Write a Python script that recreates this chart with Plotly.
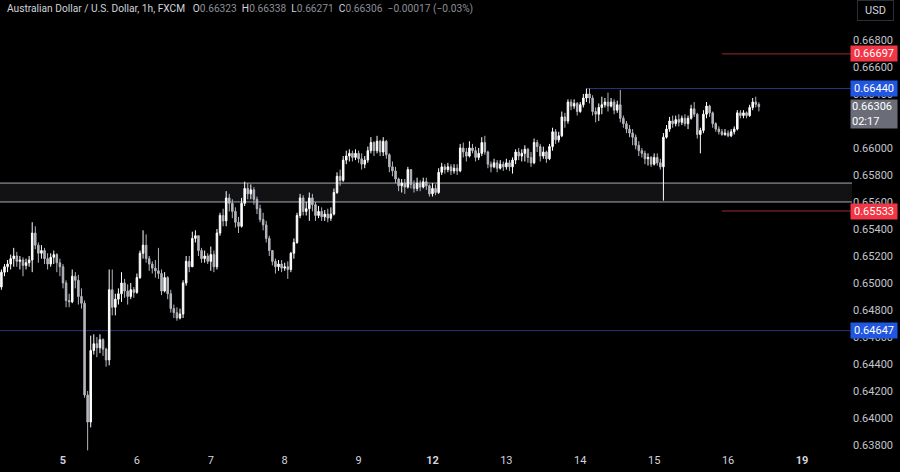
import plotly.graph_objects as go

# ---------------- data (AUD/USD, 1h, FXCM) ----------------
closes = [
 0.6508,0.6512,0.6514,0.6518,0.6520,0.6516,0.6517,0.6513,0.6515,0.6517,
 0.6537,0.6528,0.6522,0.6524,0.6518,0.6514,0.6519,0.6521,0.6515,0.6512,
 0.6500,0.6487,0.6486,0.6505,0.6502,0.6490,0.6485,0.6417,0.6397,0.6450,
 0.6455,0.6452,0.6458,0.6451,0.6443,0.6495,0.6482,0.6488,0.6492,0.6500,
 0.6494,0.6490,0.6495,0.6493,0.6504,0.6522,0.6528,0.6518,0.6514,0.6511,
 0.6509,0.6507,0.6494,0.6504,0.6492,0.6481,0.6478,0.6474,0.6477,0.6500,
 0.6516,0.6512,0.6533,0.6535,0.6524,0.6518,0.6520,0.6516,0.6521,0.6512,
 0.6537,0.6550,0.6546,0.6563,0.6559,0.6553,0.6545,0.6542,0.6559,0.6570,
 0.6566,0.6569,0.6562,0.6555,0.6547,0.6543,0.6533,0.6524,0.6516,0.6512,
 0.6514,0.6511,0.6512,0.6510,0.6522,0.6530,0.6550,0.6563,0.6553,0.6555,
 0.6563,0.6558,0.6550,0.6553,0.6549,0.6551,0.6548,0.6551,0.6567,0.6579,
 0.6576,0.6591,0.6594,0.6596,0.6593,0.6596,0.6592,0.6588,0.6591,0.6598,
 0.6604,0.6598,0.6605,0.6597,0.6605,0.6595,0.6586,0.6583,0.6577,0.6572,
 0.6574,0.6571,0.6584,0.6573,0.6570,0.6574,0.6571,0.6575,0.6572,0.6566,
 0.6570,0.6567,0.6582,0.6586,0.6584,0.6586,0.6583,0.6585,0.6583,0.6600,
 0.6597,0.6594,0.6600,0.6598,0.6593,0.6596,0.6604,0.6597,0.6588,0.6586,
 0.6589,0.6585,0.6588,0.6586,0.6589,0.6586,0.6591,0.6597,0.6594,0.6596,
 0.6599,0.6593,0.6589,0.6604,0.6601,0.6594,0.6597,0.6592,0.6601,0.6612,
 0.6606,0.6609,0.6623,0.6620,0.6634,0.6631,0.6633,0.6627,0.6632,0.6637,
 0.6640,0.6637,0.6627,0.6625,0.6630,0.6632,0.6634,0.6631,0.6634,0.6628,
 0.6632,0.6622,0.6618,0.6614,0.6611,0.6608,0.6602,0.6598,0.6596,0.6592,
 0.6593,0.6588,0.6593,0.6589,0.6586,0.6608,0.6614,0.6620,0.6618,0.6621,
 0.6619,0.6622,0.6618,0.6622,0.6629,0.6625,0.6610,0.6613,0.6625,0.6631,
 0.6626,0.6618,0.6614,0.6612,0.6610,0.6611,0.6609,0.6612,0.6614,0.6626,
 0.6624,0.6626,0.6624,0.6630,0.6634,0.66323,0.66306,
]

opens = [
 0.6497,0.6508,0.6512,0.6514,0.6518,0.6520,0.6516,0.6517,0.6513,0.6515,
 0.6517,0.6537,0.6528,0.6522,0.6524,0.6518,0.6514,0.6519,0.6521,0.6515,
 0.6512,0.6500,0.6487,0.6486,0.6505,0.6502,0.6490,0.6485,0.6417,0.6397,
 0.6450,0.6455,0.6452,0.6458,0.6451,0.6443,0.6495,0.6482,0.6488,0.6492,
 0.6500,0.6494,0.6490,0.6495,0.6493,0.6504,0.6522,0.6528,0.6518,0.6514,
 0.6511,0.6509,0.6507,0.6494,0.6504,0.6492,0.6481,0.6478,0.6474,0.6477,
 0.6500,0.6516,0.6512,0.6533,0.6535,0.6524,0.6518,0.6520,0.6516,0.6521,
 0.6512,0.6537,0.6550,0.6546,0.6563,0.6559,0.6553,0.6545,0.6542,0.6559,
 0.6570,0.6566,0.6569,0.6562,0.6555,0.6547,0.6543,0.6533,0.6524,0.6516,
 0.6512,0.6514,0.6511,0.6512,0.6510,0.6522,0.6530,0.6550,0.6563,0.6553,
 0.6555,0.6563,0.6558,0.6550,0.6553,0.6549,0.6551,0.6548,0.6551,0.6567,
 0.6579,0.6576,0.6591,0.6594,0.6596,0.6593,0.6596,0.6592,0.6588,0.6591,
 0.6598,0.6604,0.6598,0.6605,0.6597,0.6605,0.6595,0.6586,0.6583,0.6577,
 0.6572,0.6574,0.6571,0.6584,0.6573,0.6570,0.6574,0.6571,0.6575,0.6572,
 0.6566,0.6570,0.6567,0.6582,0.6586,0.6584,0.6586,0.6583,0.6585,0.6583,
 0.6600,0.6597,0.6594,0.6600,0.6598,0.6593,0.6596,0.6604,0.6597,0.6588,
 0.6586,0.6589,0.6585,0.6588,0.6586,0.6589,0.6586,0.6591,0.6597,0.6594,
 0.6596,0.6599,0.6593,0.6589,0.6604,0.6601,0.6594,0.6597,0.6592,0.6601,
 0.6612,0.6606,0.6609,0.6623,0.6620,0.6634,0.6631,0.6633,0.6627,0.6632,
 0.6637,0.6640,0.6637,0.6627,0.6625,0.6630,0.6632,0.6634,0.6631,0.6634,
 0.6628,0.6632,0.6622,0.6618,0.6614,0.6611,0.6608,0.6602,0.6598,0.6596,
 0.6592,0.6593,0.6588,0.6593,0.6589,0.6586,0.6608,0.6614,0.6620,0.6618,
 0.6621,0.6619,0.6622,0.6618,0.6622,0.6629,0.6625,0.6610,0.6613,0.6625,
 0.6631,0.6626,0.6618,0.6614,0.6612,0.6610,0.6611,0.6609,0.6612,0.6614,
 0.6626,0.6624,0.6626,0.6624,0.6630,0.6634,0.66323,
]

highs = [
 0.6510,0.6514,0.6517,0.6521,0.6526,0.6523,0.6520,0.6519,0.6518,0.6520,
 0.6545,0.6542,0.6530,0.6528,0.6526,0.6522,0.6522,0.6524,0.6522,0.6518,
 0.6514,0.6502,0.6492,0.6510,0.6508,0.6506,0.6496,0.6487,0.6420,0.6461,
 0.6462,0.6460,0.6462,0.6459,0.6452,0.6510,0.6510,0.6492,0.6496,0.6508,
 0.6503,0.6499,0.6500,0.6497,0.6507,0.6524,0.6539,0.6536,0.6520,0.6516,
 0.6517,0.6526,0.6510,0.6508,0.6505,0.6495,0.6484,0.6482,0.6481,0.6502,
 0.6520,0.6520,0.6538,0.6539,0.6535,0.6526,0.6524,0.6522,0.6527,0.6524,
 0.6540,0.6552,0.6555,0.6568,0.6566,0.6562,0.6556,0.6549,0.6563,0.6575,
 0.6574,0.6573,0.6571,0.6564,0.6558,0.6552,0.6546,0.6535,0.6524,0.6518,
 0.6517,0.6517,0.6515,0.6516,0.6523,0.6533,0.6552,0.6566,0.6565,0.6560,
 0.6567,0.6566,0.6560,0.6557,0.6556,0.6554,0.6555,0.6556,0.6570,0.6582,
 0.6584,0.6594,0.6598,0.6599,0.6598,0.6599,0.6598,0.6596,0.6594,0.6601,
 0.6608,0.6605,0.6609,0.6606,0.6608,0.6606,0.6596,0.6590,0.6586,0.6578,
 0.6577,0.6577,0.6586,0.6584,0.6576,0.6578,0.6576,0.6578,0.6578,0.6573,
 0.6574,0.6573,0.6585,0.6589,0.6588,0.6589,0.6588,0.6588,0.6588,0.6603,
 0.6604,0.6600,0.6605,0.6603,0.6601,0.6600,0.6608,0.6609,0.6598,0.6590,
 0.6592,0.6591,0.6591,0.6590,0.6592,0.6591,0.6593,0.6599,0.6600,0.6599,
 0.6602,0.6600,0.6597,0.6607,0.6606,0.6603,0.6601,0.6598,0.6603,0.6615,
 0.6614,0.6612,0.6627,0.6626,0.6636,0.6636,0.6636,0.6634,0.6634,0.6640,
 0.6644,0.6644,0.6639,0.6630,0.6633,0.6638,0.6637,0.6641,0.6637,0.6636,
 0.6635,0.6643,0.6624,0.6620,0.6617,0.6614,0.6610,0.6605,0.6600,0.6598,
 0.6596,0.6594,0.6596,0.6596,0.6592,0.6611,0.6617,0.6623,0.6624,0.6624,
 0.6625,0.6624,0.6625,0.6624,0.6632,0.6634,0.6626,0.6615,0.6628,0.6634,
 0.6632,0.6627,0.6619,0.6616,0.6614,0.6614,0.6613,0.6614,0.6616,0.6628,
 0.6628,0.6628,0.6627,0.6632,0.6637,0.6638,0.66338,
]

lows = [
 0.6495,0.6505,0.6508,0.6510,0.6512,0.6512,0.6510,0.6505,0.6510,0.6512,
 0.6508,0.6525,0.6515,0.6518,0.6514,0.6510,0.6512,0.6514,0.6508,0.6505,
 0.6496,0.6482,0.6482,0.6485,0.6496,0.6484,0.6481,0.6415,0.6376,0.6393,
 0.6447,0.6445,0.6448,0.6446,0.6438,0.6439,0.6476,0.6476,0.6484,0.6486,
 0.6489,0.6484,0.6488,0.6489,0.6492,0.6503,0.6518,0.6515,0.6509,0.6507,
 0.6504,0.6503,0.6491,0.6493,0.6488,0.6478,0.6474,0.6472,0.6473,0.6474,
 0.6498,0.6508,0.6512,0.6530,0.6520,0.6515,0.6515,0.6514,0.6509,0.6508,
 0.6510,0.6535,0.6542,0.6542,0.6553,0.6548,0.6541,0.6537,0.6541,0.6557,
 0.6562,0.6562,0.6558,0.6551,0.6545,0.6539,0.6530,0.6520,0.6513,0.6507,
 0.6509,0.6508,0.6509,0.6503,0.6508,0.6518,0.6529,0.6548,0.6550,0.6550,
 0.6546,0.6553,0.6546,0.6548,0.6546,0.6546,0.6545,0.6546,0.6550,0.6566,
 0.6572,0.6575,0.6588,0.6590,0.6590,0.6591,0.6589,0.6584,0.6585,0.6589,
 0.6596,0.6594,0.6596,0.6594,0.6594,0.6592,0.6582,0.6579,0.6574,0.6568,
 0.6567,0.6566,0.6570,0.6570,0.6567,0.6568,0.6568,0.6570,0.6569,0.6564,
 0.6564,0.6565,0.6566,0.6580,0.6581,0.6582,0.6580,0.6581,0.6580,0.6582,
 0.6593,0.6590,0.6593,0.6596,0.6590,0.6591,0.6594,0.6595,0.6585,0.6582,
 0.6585,0.6582,0.6584,0.6583,0.6584,0.6583,0.6581,0.6588,0.6591,0.6590,
 0.6590,0.6589,0.6586,0.6588,0.6597,0.6590,0.6592,0.6589,0.6591,0.6598,
 0.6603,0.6604,0.6608,0.6615,0.6618,0.6628,0.6629,0.6624,0.6626,0.6630,
 0.6634,0.6633,0.6624,0.6619,0.6620,0.6625,0.6630,0.6627,0.6630,0.6625,
 0.6626,0.6619,0.6615,0.6611,0.6608,0.6602,0.6599,0.6594,0.6593,0.6588,
 0.6587,0.6586,0.6587,0.6587,0.6584,0.6561,0.6607,0.6612,0.6615,0.6616,
 0.6616,0.6617,0.6616,0.6614,0.6621,0.6623,0.6607,0.6596,0.6611,0.6622,
 0.6623,0.6615,0.6612,0.6610,0.6609,0.6609,0.6608,0.6608,0.6610,0.6613,
 0.6622,0.6622,0.6622,0.6623,0.6628,0.6630,0.66271,
]

bar_index = list(range(len(closes)))

day_tick_bars = [20, 44, 68, 92, 116, 140, 164, 188, 212, 236, 260]
day_tick_labels = ["<b>5</b>", "6", "7", "8", "9", "<b>12</b>", "13", "14", "15", "16", "<b>19</b>"]

price_ticks = [0.638, 0.640, 0.642, 0.644, 0.646, 0.648, 0.650, 0.652, 0.654, 0.656,
               0.658, 0.660, 0.662, 0.664, 0.666, 0.668]

zone_low, zone_high = 0.6560, 0.6574
level_blue_top = 0.66440
level_blue_bottom = 0.64647
level_red_top = 0.66697
level_red_bottom = 0.65533
blue_top_start_bar = 190
red_start_bar = 234
last_close = 0.66306
countdown = "02:17"

x_range = [-0.46, 276.25]
y_range = [0.63748, 0.67096]

FONT = "Roboto, 'Noto Sans', sans-serif"
TXT = "#d1d4dc"
GRAY = "#8c8f99"

fig = go.Figure()

fig.add_trace(go.Candlestick(
    x=bar_index, open=opens, high=highs, low=lows, close=closes,
    increasing=dict(line=dict(color="#ffffff", width=1), fillcolor="#ffffff"),
    decreasing=dict(line=dict(color="#b4b7be", width=1), fillcolor="#b4b7be"),
    whiskerwidth=0, showlegend=False, hoverinfo="skip",
))

shapes = [
    dict(type="rect", xref="paper", yref="y", x0=0, x1=1, y0=zone_low, y1=zone_high,
         fillcolor="#121215", line=dict(width=0), layer="below"),
    dict(type="line", xref="paper", yref="y", x0=0, x1=1, y0=zone_high, y1=zone_high,
         line=dict(color="#a9abb0", width=1), layer="below"),
    dict(type="line", xref="paper", yref="y", x0=0, x1=1, y0=zone_low, y1=zone_low,
         line=dict(color="#a9abb0", width=1), layer="below"),
    dict(type="line", xref="paper", yref="y", x0=0, x1=1, y0=level_blue_bottom, y1=level_blue_bottom,
         line=dict(color="#2e3579", width=1), layer="below"),
    dict(type="line", xref="x", yref="y", x0=blue_top_start_bar, x1=x_range[1],
         y0=level_blue_top, y1=level_blue_top, line=dict(color="#2e3579", width=1), layer="below"),
    dict(type="line", xref="x", yref="y", x0=red_start_bar, x1=x_range[1],
         y0=level_red_top, y1=level_red_top, line=dict(color="#9c2a2e", width=1), layer="below"),
    dict(type="line", xref="x", yref="y", x0=red_start_bar, x1=x_range[1],
         y0=level_red_bottom, y1=level_red_bottom, line=dict(color="#9c2a2e", width=1), layer="below"),
]

def price_label(val, bg, txt="#ffffff"):
    return dict(x=1, xref="paper", xanchor="left", xshift=-2, y=val, yref="y", yanchor="middle",
                text=f"{val:.5f}", showarrow=False, bgcolor=bg, font=dict(color=txt, size=11, family=FONT),
                width=44, height=13, borderpad=1, align="center")

SP = "&nbsp;&nbsp;"
annotations = [
    price_label(level_red_top, "#f23645"),
    price_label(level_blue_top, "#2156e0"),
    price_label(level_red_bottom, "#f23645"),
    price_label(level_blue_bottom, "#2156e0"),
    dict(x=1, xref="paper", xanchor="left", xshift=-2, y=last_close, yref="y", yanchor="top", yshift=8,
         text=f"{last_close:.5f}<br>{countdown}", showarrow=False, bgcolor="#6a6d78",
         font=dict(color="#ffffff", size=11, family=FONT), width=44, height=26, borderpad=1, align="left"),
    dict(x=1, xref="paper", xanchor="left", xshift=5, y=1, yref="paper", yanchor="top", yshift=0,
         text="USD", showarrow=False, bgcolor="#000000", bordercolor="#2a2e39", borderwidth=1,
         font=dict(color=TXT, size=11, family=FONT), width=33, height=17, borderpad=1),
    dict(x=0, xref="paper", xanchor="left", xshift=5, y=1, yref="paper", yanchor="top", yshift=-1,
         text=("Australian Dollar / U.S. Dollar, 1h, FXCM" + SP + "&nbsp;" +
               f"O<span style='color:{GRAY}'>0.66323</span>" + SP +
               f"H<span style='color:{GRAY}'>0.66338</span>" + SP +
               f"L<span style='color:{GRAY}'>0.66271</span>" + SP +
               f"C<span style='color:{GRAY}'>0.66306</span>" + SP +
               f"<span style='color:{GRAY}'>\u22120.00017 (\u22120.03%)</span>"),
         showarrow=False, font=dict(color=TXT, size=10.2, family=FONT), align="left"),
]

fig.update_layout(
    width=900, height=472,
    margin=dict(l=0, r=48, t=0, b=20),
    paper_bgcolor="#000000", plot_bgcolor="#000000",
    shapes=shapes, annotations=annotations,
    showlegend=False,
    xaxis=dict(range=x_range, rangeslider=dict(visible=False), showgrid=False, zeroline=False,
               tickmode="array", tickvals=day_tick_bars, ticktext=day_tick_labels,
               tickfont=dict(color=TXT, size=11, family=FONT), ticks="", showline=False,
               automargin=False, fixedrange=True),
    yaxis=dict(range=y_range, side="right", showgrid=False, zeroline=False,
               tickmode="array", tickvals=price_ticks, ticktext=[f"{v:.5f}" for v in price_ticks],
               tickfont=dict(color="#c3c6ce", size=11, family=FONT), ticks="", showline=False,
               automargin=False, fixedrange=True),
)

fig.write_html("out.html", config={"displayModeBar": False},
               post_script="document.body.style.margin='0';document.body.style.background='#000';")
